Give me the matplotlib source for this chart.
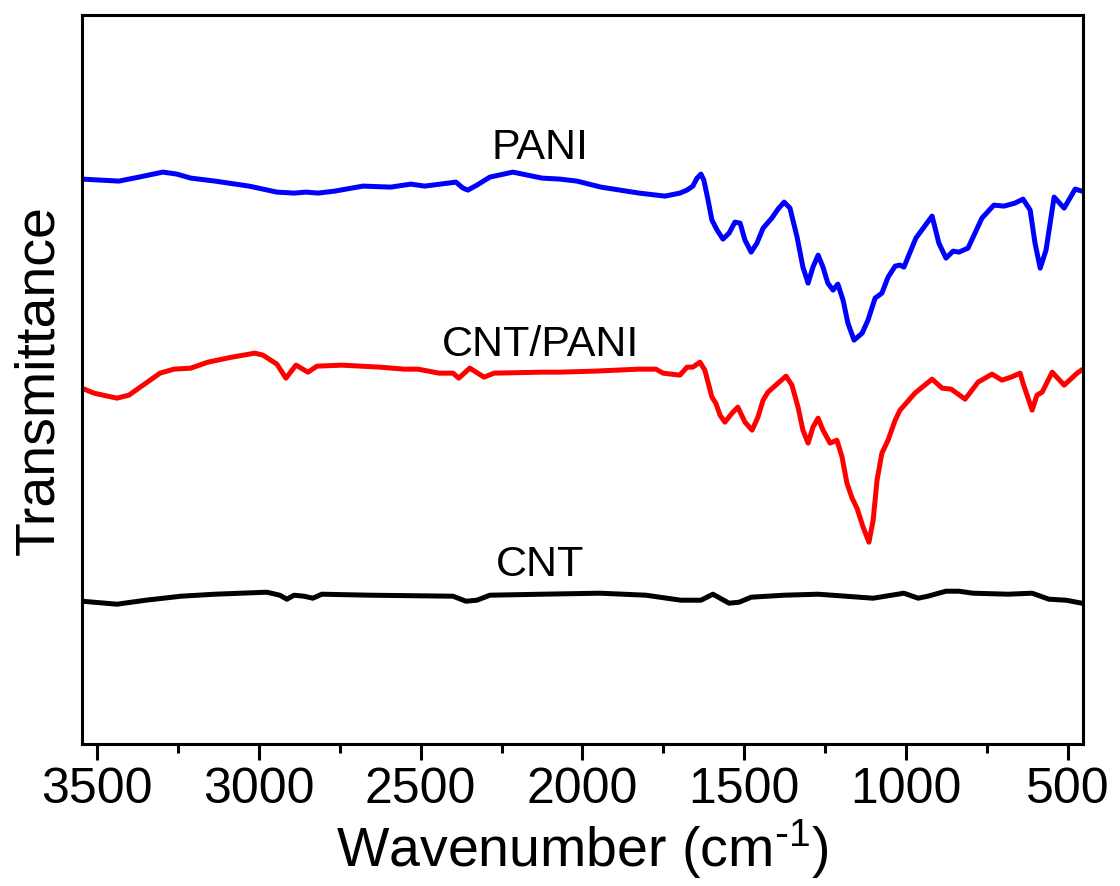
import numpy as np
import matplotlib
matplotlib.use("Agg")
import matplotlib.pyplot as plt
from matplotlib.ticker import MultipleLocator

plt.rcParams['font.family'] = ['Liberation Sans', 'DejaVu Sans']
plt.rcParams['mathtext.default'] = 'regular'

# FTIR spectra (wavenumber in cm-1, transmittance in a.u., offset traces)
pani_wn = [3546, 3432, 3370, 3296, 3253, 3210, 3135, 3030, 2944, 2891, 2854, 2817, 2765,
           2678, 2592, 2530, 2487, 2391, 2369, 2354, 2326, 2286, 2215, 2125, 2070, 2017,
           1943, 1825, 1745, 1699, 1677, 1659, 1646, 1634, 1625, 1612, 1600, 1584, 1566,
           1547, 1529, 1513, 1498, 1479, 1461, 1442, 1415, 1396, 1377, 1359, 1337, 1319,
           1303, 1288, 1272, 1257, 1242, 1226, 1211, 1195, 1180, 1161, 1136, 1118, 1096,
           1075, 1056, 1034, 1019, 1007, 970, 920, 899, 877, 855, 837, 809,
           766, 729, 698, 664, 639, 617, 602, 586, 568, 543, 512, 478, 457]
pani_t = [565, 563, 567, 572, 570, 566, 563, 558, 552, 551, 552, 551, 553,
          558, 557, 560, 558, 562, 556, 554, 559, 567, 572, 566, 565, 563,
          557, 551, 548, 551, 554, 558, 566, 570, 564, 544, 524, 514, 505,
          511, 522, 521, 504, 492, 501, 516, 526, 535, 542, 536, 507, 477,
          461, 477, 489, 477, 461, 454, 460, 444, 421, 404, 411, 424, 446,
          451, 467, 478, 479, 477, 506, 528, 501, 486, 493, 492, 496,
          526, 539, 538, 541, 545, 534, 501, 476, 494, 547, 536, 555, 553]

cntpani_wn = [3546, 3509, 3438, 3401, 3305, 3262, 3210, 3157, 3083, 3012, 2987, 2944, 2916,
              2885, 2848, 2820, 2743, 2626, 2551, 2508, 2443, 2400, 2382, 2348, 2304, 2273,
              2125, 2070, 1964, 1825, 1773, 1751, 1699, 1677, 1659, 1637, 1622, 1600, 1588,
              1575, 1560, 1538, 1520, 1498, 1476, 1458, 1442, 1427, 1396, 1371, 1353, 1334,
              1319, 1303, 1288, 1272, 1257, 1235, 1214, 1198, 1183, 1167, 1152, 1133, 1115,
              1102, 1090, 1075, 1056, 1034, 1019, 973, 920,
              889, 861, 818, 778, 735, 704, 676, 648, 639, 611, 596, 580, 549, 512, 472, 454]
cntpani_t = [356, 351, 346, 349, 371, 375, 376, 382, 387, 391, 389, 380, 366,
             379, 372, 378, 379, 377, 375, 375, 371, 371, 366, 376, 367, 371,
             372, 372, 373, 375, 375, 371, 369, 377, 377, 382, 374, 347, 341,
             329, 322, 331, 337, 322, 314, 327, 344, 352, 361, 368, 359, 337,
             314, 301, 317, 326, 314, 301, 304, 287, 261, 246, 236, 217, 202,
             224, 264, 291, 304, 324, 334, 351, 365,
             356, 355, 345, 362, 370, 364, 367, 371, 361, 334, 349, 352, 372, 359, 371, 375]

cnt_wn = [3546, 3438, 3349, 3240, 3135, 2975, 2935, 2913, 2891, 2860, 2833, 2805, 2657,
          2400, 2360, 2326, 2286, 2125, 1946, 1804, 1696, 1634, 1597, 1547, 1516, 1479,
          1377, 1272, 1102, 1007, 963, 933, 877, 837, 794, 685, 611, 559, 506, 457]
cnt_t = [143, 140, 144, 148, 150, 152, 149, 145, 149, 148, 146, 150, 149,
         148, 143, 144, 149, 150, 151, 149, 144, 144, 150, 141, 142, 147,
         149, 150, 146, 151, 146, 148, 153, 153, 151, 150, 151, 145, 144, 141]

series = [("PANI", pani_wn, pani_t, "blue", 596),
          ("CNT/PANI", cntpani_wn, cntpani_t, "red", 399),
          ("CNT", cnt_wn, cnt_t, "black", 179)]

fig = plt.figure(figsize=(11.2, 8.86), dpi=100)
ax = fig.add_axes([0.0732, 0.160, 0.8937, 0.823])

for name, wn, t, col, ylab in series:
    ax.plot(wn, t, color=col, lw=3.6, solid_joinstyle='round', solid_capstyle='round')
    ax.text(2130, ylab, name, fontsize=31, ha='center', va='center')

ax.set_xlim(3546, 454)
ax.set_ylim(0, 729)
ax.xaxis.set_major_locator(MultipleLocator(500))
ax.xaxis.set_minor_locator(MultipleLocator(250))
ax.set_yticks([])
ax.tick_params(axis='x', which='major', direction='out', length=11.5, width=2.2,
               labelsize=36, pad=5)
ax.tick_params(axis='x', which='minor', direction='out', length=6.5, width=2.2)
for sp in ax.spines.values():
    sp.set_linewidth(2.2)

ax.set_xlabel("Wavenumber (cm$^{\\text{-}1}$)", fontsize=40, labelpad=3)
ax.set_ylabel("Transmittance", fontsize=40, labelpad=12)

fig.savefig("out.png", dpi=100)
